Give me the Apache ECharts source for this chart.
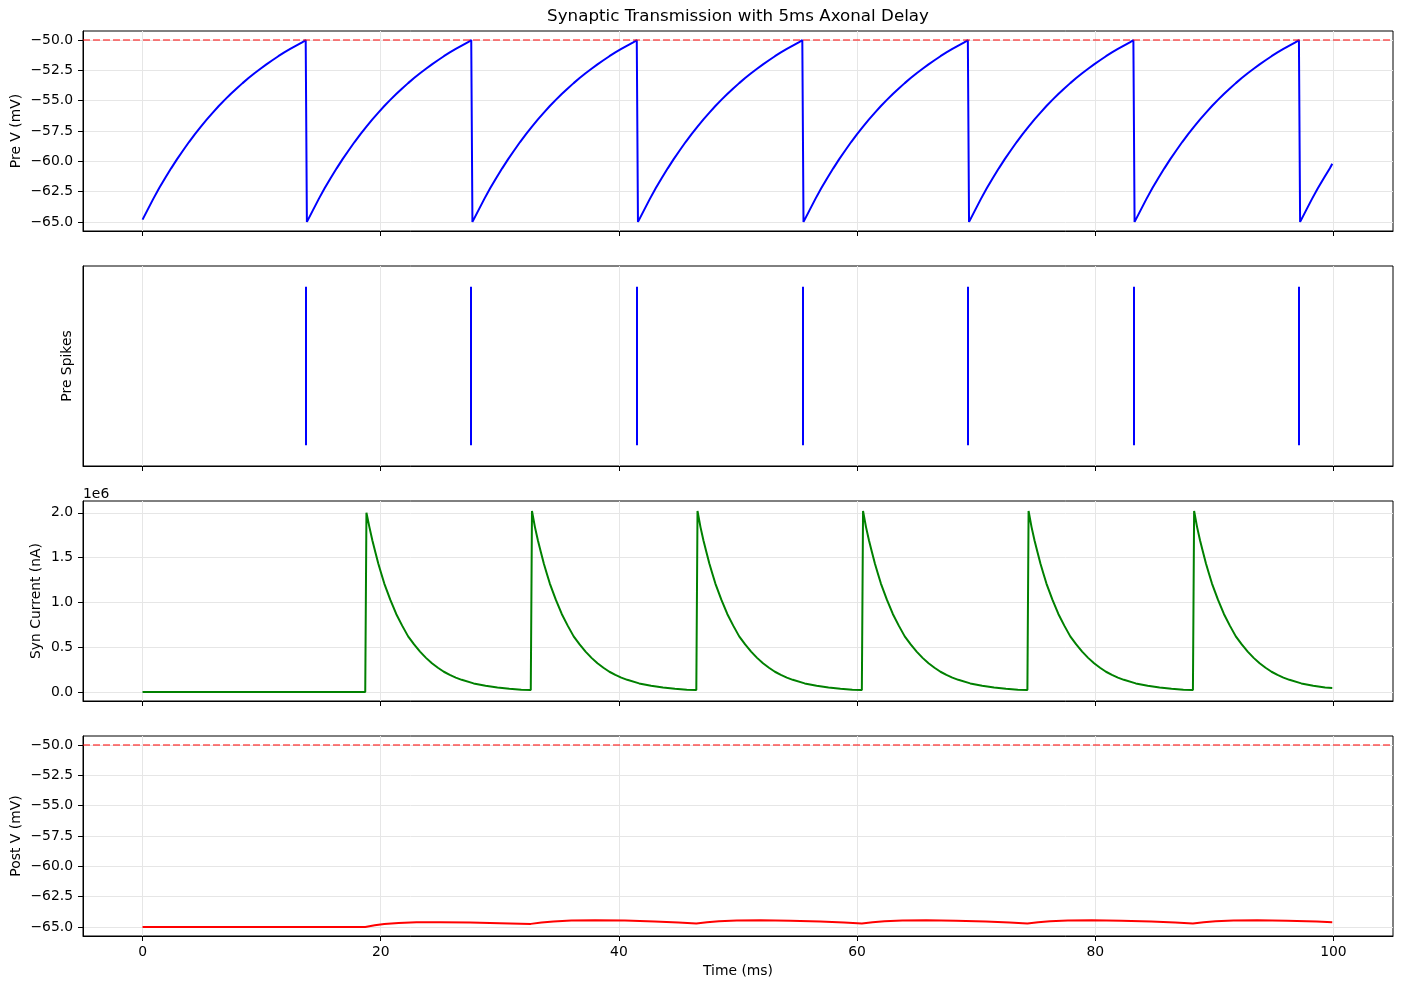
<!DOCTYPE html>
<html>
<head>
<meta charset="utf-8">
<script src="https://cdn.jsdelivr.net/npm/echarts@6/dist/echarts.min.js"></script>
<style>
html, body { margin: 0; padding: 0; background: #fff; }
#chart { width: 1403px; height: 989px; }
</style>
</head>
<body>
<div id="chart"></div>
<script>
// spike times of the presynaptic cell (ms) and the resets that follow them
var spikeTimes = [13.7, 27.6, 41.5, 55.4, 69.3, 83.2, 97.1];
var resetTimes = [-0.1, 13.8, 27.7, 41.6, 55.5, 69.4, 83.3, 97.2];
// one charging curve of Pre V (ms after reset, mV)
var preRiseT = [0, 0.1, 0.5, 1, 1.5, 2, 2.5, 3, 3.5, 4, 4.5, 5, 5.5, 6, 6.5, 7, 7.5,
    8, 8.5, 9, 9.5, 10, 10.5, 11, 11.5, 12, 12.5, 13, 13.5, 13.8];
var preRiseV = [-65.0, -64.81, -64.05, -63.1, -62.21, -61.37, -60.58, -59.82, -59.11, -58.41, -57.75, -57.13, -56.54, -55.98, -55.44, -54.93, -54.45,
    -53.99, -53.55, -53.13, -52.73, -52.36, -52.0, -51.66, -51.33, -51.02, -50.73, -50.45, -50.18, -50.0];
var preLast = [99.9, -60.2];

// synaptic current, in units of 1e6 nA
var synPeakTimes = [18.8, 32.7, 46.6, 60.5, 74.4, 88.3];
var synPeaks = [2.00, 2.02, 2.02, 2.02, 2.02, 2.02];
var synDecayT = [0, 0.25, 0.5, 0.75, 1, 1.25, 1.5, 1.75, 2, 2.5, 3, 3.5, 4, 4.5, 5, 5.5, 6, 6.5,
    7, 7.5, 8, 9, 10, 11, 12, 13, 13.8];
var synDecayV = [2.00, 1.84, 1.69, 1.56, 1.43, 1.32, 1.21, 1.12, 1.03, 0.87, 0.74, 0.62, 0.53, 0.45, 0.38, 0.32, 0.27, 0.225,
    0.19, 0.16, 0.135, 0.095, 0.068, 0.048, 0.035, 0.025, 0.02];
var synStart = [[0, 0], [18.7, 0]];
var synLast = [99.9, 0.045];

// postsynaptic membrane potential
var postT = [0, 18.7, 19.5, 20.3, 21.5, 23, 25, 27.5, 30, 32.6,
    33.5, 34.5, 36, 38, 40.5, 43, 45, 46.5,
    47.4, 48.4, 49.9, 51.9, 54.4, 56.9, 58.9, 60.4,
    61.3, 62.3, 63.8, 65.8, 68.3, 70.8, 72.8, 74.3,
    75.2, 76.2, 77.7, 79.7, 82.2, 84.7, 86.7, 88.2,
    89.1, 90.1, 91.6, 93.6, 96.1, 98.6, 99.9];
var postV = [-65, -65, -64.87, -64.76, -64.67, -64.62, -64.61, -64.64, -64.69, -64.75,
    -64.64, -64.55, -64.48, -64.45, -64.48, -64.55, -64.63, -64.72,
    -64.62, -64.53, -64.47, -64.45, -64.49, -64.56, -64.64, -64.72,
    -64.62, -64.53, -64.47, -64.45, -64.49, -64.56, -64.64, -64.72,
    -64.62, -64.53, -64.47, -64.45, -64.49, -64.56, -64.64, -64.72,
    -64.62, -64.53, -64.47, -64.45, -64.49, -64.56, -64.62];

var threshold = -50;
var timeTicks = [0, 20, 40, 60, 80, 100];
var voltTicks = [-65, -62.5, -60, -57.5, -55, -52.5, -50];
var synTicks = [0, 0.5, 1, 1.5, 2];

var preData = [];
resetTimes.forEach(function (r) {
    for (var j = 0; j < preRiseT.length; j++) {
        var t = Math.round((r + preRiseT[j]) * 100) / 100;
        if (t < 0) continue;
        if (t > 99.9) break;
        preData.push([t, preRiseV[j]]);
    }
});
preData.push(preLast);

var synData = synStart.slice();
synPeakTimes.forEach(function (p, i) {
    for (var j = 0; j < synDecayT.length; j++) {
        var t = Math.round((p + synDecayT[j]) * 100) / 100;
        if (t > 99.9) break;
        synData.push([t, j === 0 ? synPeaks[i] : synDecayV[j]]);
    }
});
synData.push(synLast);

var postData = postT.map(function (t, i) { return [t, postV[i]]; });

var font = 'DejaVu Sans';
var fs = 13.9;
var gridLine = { show: true, lineStyle: { color: '#e6e6e6', width: 1 } };

function minus(s) { return s.replace('-', '\u2212'); }

function xAxis(i) {
    var last = i === 3;
    return {
        type: 'value', gridIndex: i, min: -5, max: 105,
        axisLine: { show: true, onZero: false, lineStyle: { color: '#000', width: 1 } },
        axisTick: { show: true, length: 5, customValues: timeTicks, lineStyle: { color: '#000' } },
        axisLabel: { show: last, customValues: timeTicks, margin: 9, color: '#000', fontFamily: font, fontSize: fs },
        splitLine: gridLine,
        name: last ? 'Time (ms)' : '', nameLocation: 'middle', nameGap: 28, nameMoveOverlap: false,
        nameTextStyle: { color: '#000', fontFamily: font, fontSize: fs }
    };
}

function yAxis(i, opts) {
    return {
        type: 'value', gridIndex: i, min: opts.min, max: opts.max,
        axisLine: { show: true, onZero: false, lineStyle: { color: '#000', width: 1 } },
        axisTick: { show: !!opts.ticks, length: 5, customValues: opts.ticks, lineStyle: { color: '#000' } },
        axisLabel: {
            show: !!opts.ticks, customValues: opts.ticks, margin: 10, color: '#000',
            fontFamily: font, fontSize: fs,
            formatter: function (v) { return minus(v.toFixed(1)); }
        },
        splitLine: opts.ticks ? gridLine : { show: false },
        name: opts.name, nameLocation: 'middle', nameGap: opts.gap, nameMoveOverlap: false,
        nameTextStyle: { color: '#000', fontFamily: font, fontSize: fs }
    };
}

var tops = [31, 266, 501, 736];

var option = {
    animation: false,
    backgroundColor: '#fff',
    textStyle: { fontFamily: font },
    grid: tops.map(function (top) {
        return {
            left: 83, right: 10, top: top, height: 200, show: true,
            borderColor: '#000', borderWidth: 1, outerBoundsMode: 'none', containLabel: false
        };
    }),
    xAxis: [0, 1, 2, 3].map(xAxis),
    yAxis: [
        yAxis(0, { min: -65.75, max: -49.25, ticks: voltTicks, name: 'Pre V (mV)', gap: 60 }),
        yAxis(1, { min: -0.13, max: 1.13, ticks: null, name: 'Pre Spikes', gap: 9 }),
        yAxis(2, { min: -0.1015, max: 2.1315, ticks: synTicks, name: 'Syn Current (nA)', gap: 40 }),
        yAxis(3, { min: -65.75, max: -49.25, ticks: voltTicks, name: 'Post V (mV)', gap: 60 })
    ],
    graphic: [
        {
            type: 'text', x: 738, y: 17,
            style: {
                text: 'Synaptic Transmission with 5ms Axonal Delay', fill: '#000',
                font: '16.7px "DejaVu Sans"', align: 'center', verticalAlign: 'middle'
            }
        },
        {
            type: 'text', x: 83, y: 494,
            style: { text: '1e6', fill: '#000', font: fs + 'px "DejaVu Sans"', align: 'left', verticalAlign: 'middle' }
        }
    ],
    series: [
        {
            type: 'line', xAxisIndex: 0, yAxisIndex: 0, data: preData,
            showSymbol: false, lineStyle: { color: '#0000ff', width: 2 },
            markLine: {
                silent: true, symbol: ['none', 'none'], label: { show: false },
                lineStyle: { color: '#ff0000', opacity: 0.5, width: 2, type: [7, 3] },
                data: [{ yAxis: threshold }]
            }
        },
        {
            type: 'lines', coordinateSystem: 'cartesian2d', xAxisIndex: 1, yAxisIndex: 1,
            data: spikeTimes.map(function (t) { return { coords: [[t, 0], [t, 1]] }; }),
            lineStyle: { color: '#0000ff', width: 2, opacity: 1 }
        },
        {
            type: 'line', xAxisIndex: 2, yAxisIndex: 2, data: synData,
            showSymbol: false, lineStyle: { color: '#008000', width: 2 }
        },
        {
            type: 'line', xAxisIndex: 3, yAxisIndex: 3, data: postData,
            showSymbol: false, lineStyle: { color: '#ff0000', width: 2 },
            markLine: {
                silent: true, symbol: ['none', 'none'], label: { show: false },
                lineStyle: { color: '#ff0000', opacity: 0.5, width: 2, type: [7, 3] },
                data: [{ yAxis: threshold }]
            }
        }
    ]
};

var chart = echarts.init(document.getElementById('chart'));
chart.setOption(option);
</script>
</body>
</html>
